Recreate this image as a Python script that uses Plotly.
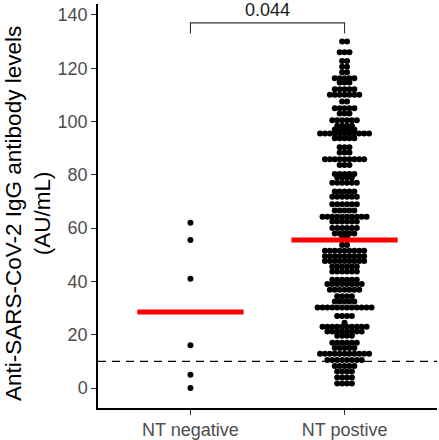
import numpy as np
import plotly.graph_objects as go

# ---------------- data ----------------
categories = ["NT negative", "NT postive"]
neg_values = [62, 55.5, 41, 16, 5, 0]

# NT positive: dot-plot bin centres (AU/mL) and number of dots in each bin
pos_levels = [130.0, 126.0, 122.7, 120.6, 118.5, 116.2, 114.6, 112.1, 110.0, 107.5,
              105.0, 103.0, 100.5, 98.4, 97.0, 95.5, 93.7, 90.3, 88.4, 85.8,
              83.7, 80.3, 79.0, 77.0, 73.7, 71.8, 69.0, 66.6, 64.3, 62.5,
              60.0, 58.0, 57.0, 55.5, 53.7, 51.5, 49.4, 47.7, 45.6, 43.7,
              40.6, 39.0, 36.9, 34.4, 32.5, 30.2, 27.0, 24.5, 23.0, 21.2,
              19.6, 17.0, 15.0, 12.9, 10.5, 8.3, 6.2, 3.9, 1.7]
pos_counts = [2, 3, 2, 2, 2, 5, 3, 5, 7, 2,
              5, 3, 6, 4, 5, 11, 5, 3, 3, 9,
              3, 5, 4, 6, 5, 6, 6, 5, 10, 6,
              6, 5, 2, 2, 2, 9, 9, 9, 6, 6,
              6, 8, 7, 4, 5, 12, 4, 1, 10, 8,
              4, 6, 5, 11, 8, 5, 4, 4, 4]

cutoff = 10
p_value_label = "0.044"
bracket_y = 137
bracket_leg = 133
y_ticks = [0, 20, 40, 60, 80, 100, 120, 140]

# ---------------- layout helpers ----------------
step = 0.0318  # horizontal spacing of stacked dots (x units)


def stack(center, levels, counts):
    xs, ys = [], []
    for lv, n in zip(levels, counts):
        for i in range(n):
            xs.append(center + (i - (n - 1) / 2) * step)
            ys.append(lv)
    return xs, ys


neg_x, neg_y = stack(1, neg_values, [1] * len(neg_values))
pos_x, pos_y = stack(2, pos_levels, pos_counts)

neg_median = float(np.median(neg_values))
pos_all = np.repeat(pos_levels, pos_counts)
pos_median = float(np.median(pos_all))

FONT = "Liberation Sans, Arial, sans-serif"

fig = go.Figure()
fig.add_trace(go.Scatter(x=neg_x + pos_x, y=neg_y + pos_y, mode="markers",
                         marker=dict(size=6, color="black", line=dict(width=0)),
                         showlegend=False, hoverinfo="y"))

# median lines
for cx, med in [(1, neg_median), (2, pos_median)]:
    fig.add_trace(go.Scatter(x=[cx - 0.345, cx + 0.345], y=[med, med], mode="lines",
                             line=dict(color="#ff0000", width=5), showlegend=False))

# cutoff dashed line
fig.add_shape(type="line", xref="paper", x0=0, x1=1, yref="y", y0=cutoff, y1=cutoff,
              line=dict(color="black", width=1.4, dash="8px,6px"), layer="above")

# significance bracket
fig.add_trace(go.Scatter(x=[1, 1, 2, 2], y=[bracket_leg, bracket_y, bracket_y, bracket_leg],
                         mode="lines", line=dict(color="#333333", width=1.1),
                         showlegend=False, hoverinfo="skip"))
fig.add_annotation(x=1.5, y=bracket_y, text=p_value_label, showarrow=False,
                   yanchor="bottom", yshift=1, font=dict(size=18, color="#1a1a1a", family=FONT))

# y-axis title as rotated text
fig.add_annotation(xref="paper", yref="paper", x=0, y=0.5, xanchor="center", yanchor="middle",
                   xshift=-70, yshift=-8, textangle=-90, showarrow=False,
                   text="Anti-SARS-CoV-2 IgG antibody levels<br>(AU/mL)",
                   font=dict(size=22.5, color="black", family=FONT))

fig.update_layout(
    width=439, height=440,
    margin=dict(l=98, r=2, t=4, b=32, autoexpand=False),
    plot_bgcolor="white", paper_bgcolor="white",
    font=dict(family=FONT),
    showlegend=False,
)
fig.update_xaxes(range=[0.4, 2.6], tickmode="array", tickvals=[1, 2], ticktext=categories,
                 automargin=False,
                 showgrid=False, zeroline=False, showline=True, linecolor="black", linewidth=1.5,
                 ticks="outside", ticklen=5, tickcolor="#333333", tickwidth=1.2,
                 tickfont=dict(size=18, color="#4d4d4d", family=FONT))
fig.update_yaxes(range=[-7.5, 144.1], tickmode="array", tickvals=y_ticks,
                 automargin=False,
                 showgrid=False, zeroline=False, showline=True, linecolor="black", linewidth=1.5,
                 ticks="outside", ticklen=5, tickcolor="#333333", tickwidth=1.2,
                 tickfont=dict(size=18, color="#4d4d4d", family=FONT))

fig.write_html("out.html", config={"displayModeBar": False},
               post_script="document.body.style.margin='0px';document.body.style.overflow='hidden';")
